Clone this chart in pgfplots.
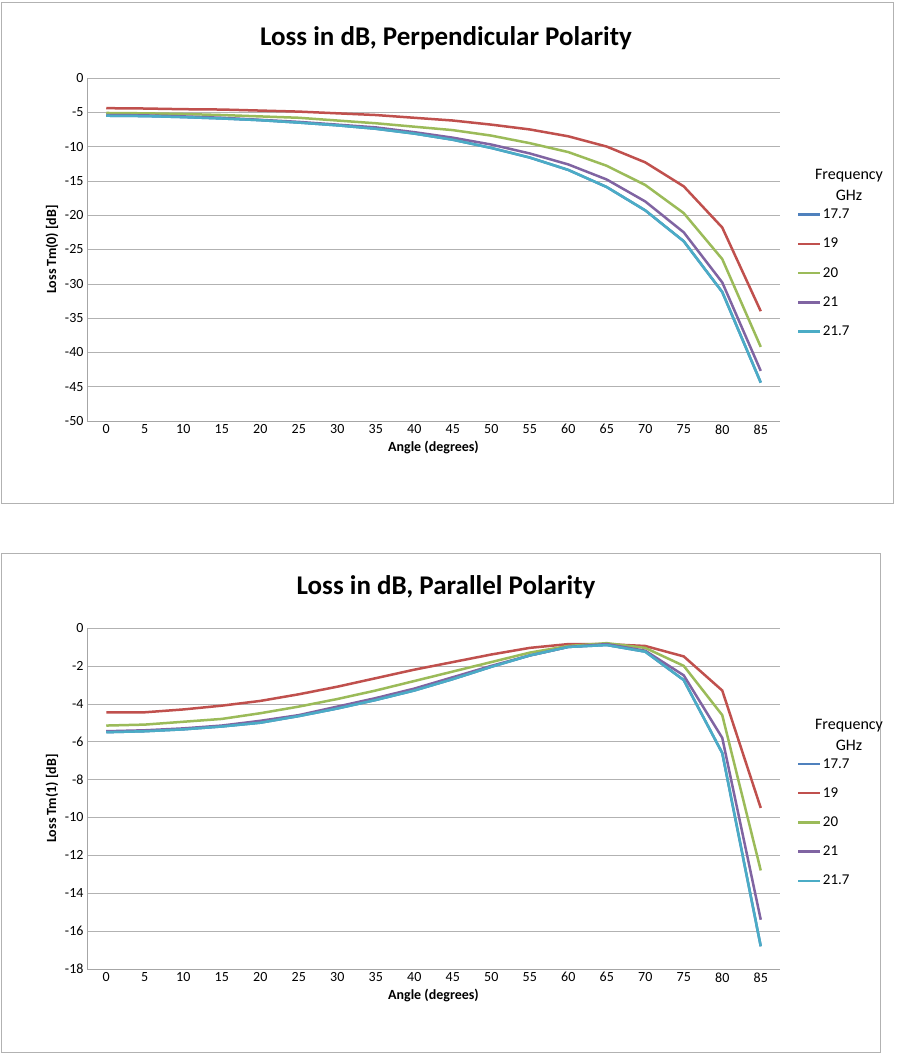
\documentclass[border=0pt]{standalone}
\usepackage{pgfplots}
\pgfplotsset{compat=1.18}
\usepackage{fontspec}
\setmainfont{Carlito}
\definecolor{cb}{HTML}{4F81BD}
\definecolor{cr}{HTML}{C0504D}
\definecolor{cg}{HTML}{9BBB59}
\definecolor{cp}{HTML}{8064A2}
\definecolor{cc}{HTML}{4BACC6}
\pgfplotsset{
 myax/.style={
  scale only axis, width=693pt, xmin=-0.5, xmax=17.5,
  xtick={0,...,17}, xticklabels={0,5,10,15,20,25,30,35,40,45,50,55,60,65,70,75,80,85},
  axis x line*=bottom, axis y line*=left,
  axis line style={draw=gray!70},
  ymajorgrids, grid style={gray!60},
  major tick length=0pt,
  ticklabel style={font=\fontsize{14}{14}\selectfont},
  /pgf/number format/assume math mode=true,
  xlabel={\bfseries Angle (degrees)}, label style={font=\fontsize{14}{14}\selectfont},
  every axis plot/.append style={line width=2.5pt, no marks},
  legend style={draw=none, fill=none, at={(1.02,0.63)}, anchor=north west, font=\fontsize{15}{15}\selectfont, row sep=14pt},
  legend cell align=left,
  legend image post style={line width=2.5pt},
  legend image code/.code={\draw[##1] (0cm,0cm) -- (0.75cm,0cm);},
 }}
\begin{document}
\begin{tikzpicture}[x=1pt,y=1pt]
\fill[white] (0,0) rectangle (897,1056);
\draw[gray!60] (1,553) rectangle (893,1054);
\draw[gray!60] (1,4) rectangle (880,503);
\node[font=\fontsize{27}{27}\selectfont\bfseries] at (446,1018) {Loss in dB, Perpendicular Polarity};
\node[font=\fontsize{27}{27}\selectfont\bfseries] at (446,469) {Loss in dB, Parallel Polarity};
\node[font=\fontsize{16}{21}\selectfont, align=center] at (849,871) {Frequency\\GHz};
\node[font=\fontsize{16}{21}\selectfont, align=center] at (849,321) {Frequency\\GHz};
\begin{axis}[myax, at={(87pt,635pt)}, height=343pt, ymin=-50, ymax=0, ytick={-50,-45,...,0},
  ylabel={\bfseries Loss Tm(0) [dB]}]
\addplot[cb] coordinates {(0,-5.5)(1,-5.55)(2,-5.7)(3,-5.9)(4,-6.15)(5,-6.5)(6,-6.9)(7,-7.4)(8,-8.1)(9,-9)(10,-10.2)(11,-11.6)(12,-13.4)(13,-15.9)(14,-19.3)(15,-23.8)(16,-31.2)(17,-44.4)};
\addplot[cr] coordinates {(0,-4.4)(1,-4.45)(2,-4.55)(3,-4.6)(4,-4.75)(5,-4.9)(6,-5.15)(7,-5.4)(8,-5.8)(9,-6.2)(10,-6.8)(11,-7.5)(12,-8.5)(13,-10)(14,-12.3)(15,-15.8)(16,-21.8)(17,-34)};
\addplot[cg] coordinates {(0,-5.1)(1,-5.15)(2,-5.25)(3,-5.4)(4,-5.6)(5,-5.8)(6,-6.2)(7,-6.6)(8,-7.1)(9,-7.6)(10,-8.4)(11,-9.5)(12,-10.8)(13,-12.8)(14,-15.6)(15,-19.7)(16,-26.4)(17,-39.2)};
\addplot[cp] coordinates {(0,-5.4)(1,-5.45)(2,-5.6)(3,-5.8)(4,-6.1)(5,-6.4)(6,-6.8)(7,-7.2)(8,-7.9)(9,-8.7)(10,-9.7)(11,-11)(12,-12.6)(13,-14.8)(14,-18)(15,-22.5)(16,-29.8)(17,-42.7)};
\addplot[cc] coordinates {(0,-5.5)(1,-5.55)(2,-5.7)(3,-5.9)(4,-6.15)(5,-6.5)(6,-6.9)(7,-7.4)(8,-8.1)(9,-9)(10,-10.2)(11,-11.6)(12,-13.4)(13,-15.9)(14,-19.3)(15,-23.8)(16,-31.2)(17,-44.4)};
\legend{17.7,19,20,21,21.7}
\end{axis}
\begin{axis}[myax, at={(87pt,87pt)}, height=341pt, ymin=-18, ymax=0, ytick={-18,-16,...,0},
  ylabel={\bfseries Loss Tm(1) [dB]}]
\addplot[cb] coordinates {(0,-5.5)(1,-5.45)(2,-5.35)(3,-5.2)(4,-5)(5,-4.65)(6,-4.25)(7,-3.8)(8,-3.3)(9,-2.7)(10,-2.05)(11,-1.45)(12,-1.0)(13,-0.9)(14,-1.25)(15,-2.75)(16,-6.6)(17,-16.8)};
\addplot[cr] coordinates {(0,-4.45)(1,-4.45)(2,-4.3)(3,-4.1)(4,-3.85)(5,-3.5)(6,-3.1)(7,-2.65)(8,-2.2)(9,-1.8)(10,-1.4)(11,-1.05)(12,-0.85)(13,-0.85)(14,-0.95)(15,-1.5)(16,-3.3)(17,-9.5)};
\addplot[cg] coordinates {(0,-5.15)(1,-5.1)(2,-4.95)(3,-4.8)(4,-4.5)(5,-4.15)(6,-3.75)(7,-3.3)(8,-2.8)(9,-2.3)(10,-1.8)(11,-1.3)(12,-0.95)(13,-0.8)(14,-1.05)(15,-2)(16,-4.6)(17,-12.8)};
\addplot[cp] coordinates {(0,-5.45)(1,-5.4)(2,-5.3)(3,-5.15)(4,-4.9)(5,-4.6)(6,-4.15)(7,-3.7)(8,-3.2)(9,-2.6)(10,-2)(11,-1.45)(12,-1.0)(13,-0.85)(14,-1.2)(15,-2.5)(16,-5.8)(17,-15.4)};
\addplot[cc] coordinates {(0,-5.5)(1,-5.45)(2,-5.35)(3,-5.2)(4,-5)(5,-4.65)(6,-4.25)(7,-3.8)(8,-3.3)(9,-2.7)(10,-2.05)(11,-1.45)(12,-1.0)(13,-0.9)(14,-1.25)(15,-2.75)(16,-6.6)(17,-16.8)};
\legend{17.7,19,20,21,21.7}
\end{axis}
\end{tikzpicture}
\end{document}
